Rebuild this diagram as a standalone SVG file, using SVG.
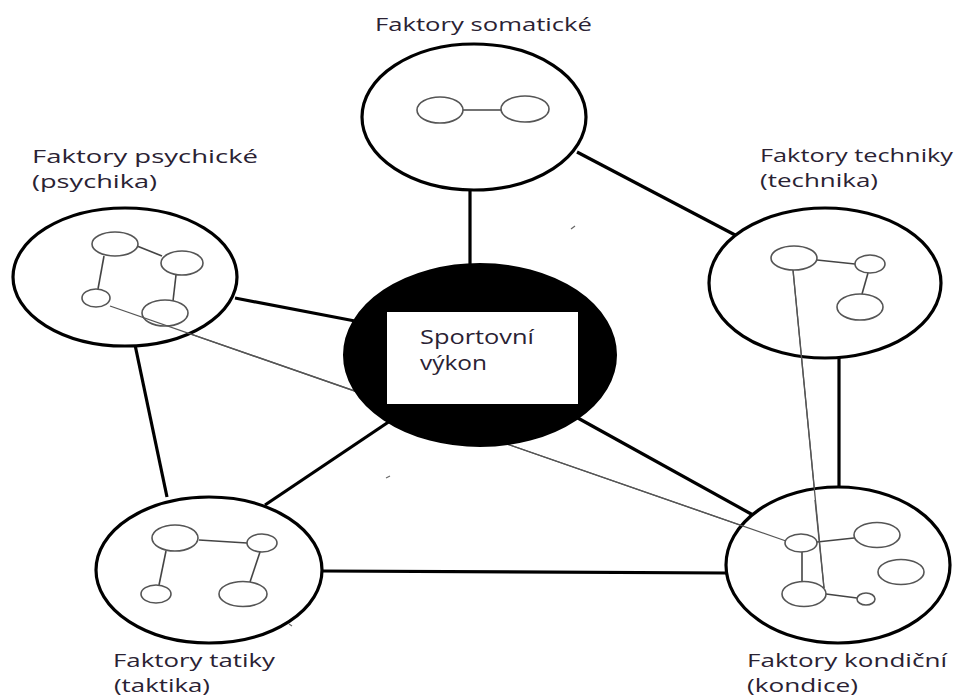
<svg xmlns="http://www.w3.org/2000/svg" width="957" height="698" viewBox="0 0 957 698">
<style>
.big{fill:#fff;stroke:#000;stroke-width:3.2}
.core{fill:#000;stroke:#000;stroke-width:2}
.sub{fill:#fff;stroke:#555;stroke-width:1.6}
.in{stroke:#444;stroke-width:1.6;fill:none}
.thick{stroke:#000;stroke-width:3.2;fill:none}
.thin{stroke:#555;stroke-width:1.3;fill:none}
.lbl{font-family:"Open Sans","Noto Sans",sans-serif;font-size:18px;fill:#2a2233}
</style>
<rect width="957" height="698" fill="#fff"/>
<g id="connectors">
<line class="thick" x1="470" y1="188" x2="470" y2="266"/>
<line class="thick" x1="577" y1="152" x2="737" y2="236"/>
<line class="thick" x1="235" y1="298" x2="355" y2="321"/>
<line class="thick" x1="134" y1="340" x2="167" y2="497"/>
<line class="thick" x1="390" y1="421" x2="265" y2="505"/>
<line class="thick" x1="576" y1="417" x2="753" y2="515"/>
<line class="thick" x1="322" y1="571" x2="726" y2="573"/>
<line class="thick" x1="839" y1="357" x2="839" y2="489"/>
<line class="thin" x1="110" y1="306" x2="786" y2="541"/>
</g>
<g id="somaticke">
<ellipse class="big" cx="474" cy="117" rx="112" ry="73"/>
<line class="in" x1="463" y1="110" x2="502" y2="110"/>
<ellipse class="sub" cx="440" cy="110" rx="23" ry="13"/>
<ellipse class="sub" cx="525" cy="109" rx="24" ry="13"/>
<text class="lbl" x="375" y="31" textLength="217" lengthAdjust="spacingAndGlyphs">Faktory somatické</text>
</g>
<g id="psychika">
<ellipse class="big" cx="125" cy="277" rx="112" ry="69"/>
<line class="in" x1="137" y1="246" x2="162" y2="256"/>
<line class="in" x1="104" y1="256" x2="98" y2="289"/>
<line class="in" x1="176" y1="275" x2="173" y2="301"/>
<ellipse class="sub" cx="115" cy="244" rx="23" ry="12"/>
<ellipse class="sub" cx="182" cy="263" rx="21" ry="12"/>
<ellipse class="sub" cx="96" cy="298" rx="14" ry="9"/>
<ellipse class="sub" cx="165" cy="313" rx="23" ry="13"/>
<text class="lbl" x="32" y="163" textLength="226" lengthAdjust="spacingAndGlyphs">Faktory psychické</text>
<text class="lbl" x="32" y="188" textLength="125" lengthAdjust="spacingAndGlyphs">(psychika)</text>
</g>
<g id="technika">
<ellipse class="big" cx="825" cy="283" rx="116" ry="75"/>
<line class="in" x1="817" y1="260" x2="855" y2="264"/>
<line class="in" x1="868" y1="273" x2="862" y2="294"/>
<line class="thin" x1="793" y1="270" x2="824" y2="588"/>
<ellipse class="sub" cx="794" cy="258" rx="23" ry="12"/>
<ellipse class="sub" cx="870" cy="264" rx="15" ry="9"/>
<ellipse class="sub" cx="860" cy="307" rx="23" ry="13"/>
<text class="lbl" x="760" y="162" textLength="193" lengthAdjust="spacingAndGlyphs">Faktory techniky</text>
<text class="lbl" x="760" y="187" textLength="118" lengthAdjust="spacingAndGlyphs">(technika)</text>
</g>
<g id="taktika">
<ellipse class="big" cx="209" cy="570" rx="113" ry="73"/>
<line class="in" x1="199" y1="540" x2="247" y2="543"/>
<line class="in" x1="166" y1="551" x2="159" y2="585"/>
<line class="in" x1="260" y1="552" x2="250" y2="582"/>
<ellipse class="sub" cx="175" cy="538" rx="23" ry="13"/>
<ellipse class="sub" cx="262" cy="543" rx="15" ry="9"/>
<ellipse class="sub" cx="156" cy="594" rx="15" ry="9"/>
<ellipse class="sub" cx="243" cy="594" rx="24" ry="12.5"/>
<text class="lbl" x="113" y="667" textLength="162" lengthAdjust="spacingAndGlyphs">Faktory tatiky</text>
<text class="lbl" x="114" y="692" textLength="96" lengthAdjust="spacingAndGlyphs">(taktika)</text>
</g>
<g id="kondice">
<ellipse class="big" cx="838" cy="565" rx="112" ry="78"/>
<line class="thin" x1="110" y1="306" x2="786" y2="541"/>
<line class="thin" x1="793" y1="270" x2="824" y2="588"/>
<line class="in" x1="817" y1="542" x2="854" y2="538"/>
<line class="in" x1="802" y1="552" x2="802" y2="582"/>
<line class="in" x1="826" y1="594" x2="857" y2="598"/>
<ellipse class="sub" cx="801" cy="543" rx="16" ry="9"/>
<ellipse class="sub" cx="877" cy="535" rx="23" ry="12.5"/>
<ellipse class="sub" cx="901" cy="572" rx="23" ry="12.5"/>
<ellipse class="sub" cx="804" cy="594" rx="22" ry="12.5"/>
<ellipse class="sub" cx="866" cy="599" rx="9" ry="6"/>
<line class="thin" x1="815" y1="500" x2="824" y2="588"/>
<text class="lbl" x="747" y="667" textLength="200" lengthAdjust="spacingAndGlyphs">Faktory kondiční</text>
<text class="lbl" x="747" y="692" textLength="111" lengthAdjust="spacingAndGlyphs">(kondice)</text>
</g>
<g id="vykon">
<ellipse class="core" cx="480" cy="355" rx="136" ry="91"/>
<rect x="387" y="312" width="191" height="92" fill="#fff"/>
<text class="lbl" x="420" y="344" style="font-size:20px" textLength="114" lengthAdjust="spacingAndGlyphs">Sportovní</text>
<text class="lbl" x="420" y="370" style="font-size:20px" textLength="67" lengthAdjust="spacingAndGlyphs">výkon</text>
</g>
<g id="marks" stroke="#666" stroke-width="1.2">
<line x1="571" y1="229" x2="575" y2="226"/>
<line x1="386" y1="478" x2="390" y2="476"/>
<line x1="289" y1="624" x2="292" y2="626"/>
</g>
</svg>
